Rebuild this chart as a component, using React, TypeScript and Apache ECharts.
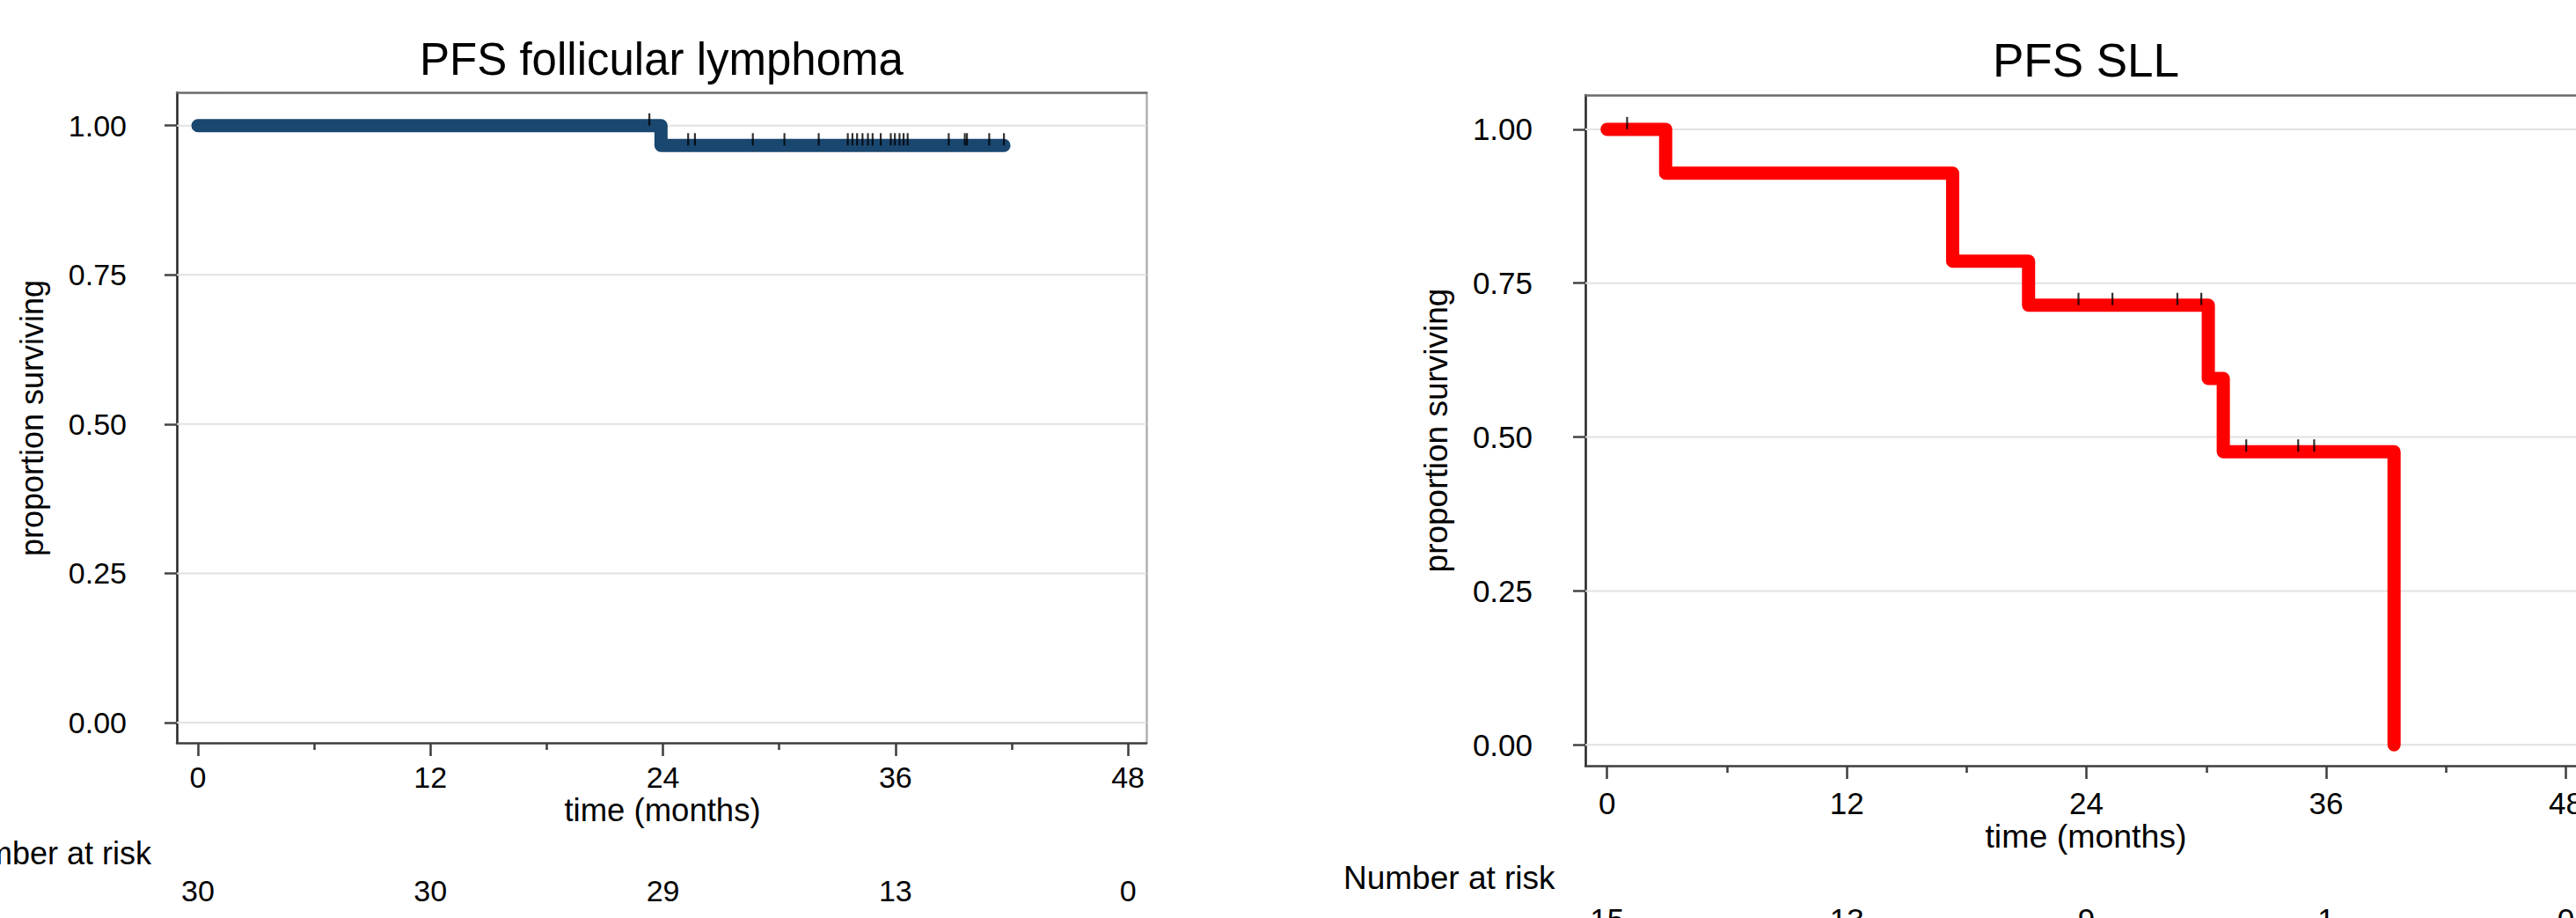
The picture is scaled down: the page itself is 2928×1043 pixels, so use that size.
import React, { useEffect, useRef } from "react";
import * as echarts from "echarts";

const W = 2928;
const H = 1043;
const FONT = "'Liberation Sans', Arial, Helvetica, sans-serif";

// shared axis values
const xTickMajor = [0, 12, 24, 36, 48];
const xTickMinor = [6, 18, 30, 42];
const yTicks = [0, 0.25, 0.5, 0.75, 1];
const yAxisTitle = "proportion surviving";
const xAxisTitle = "time (months)";
const riskTitle = "Number at risk";

// Panel 1: follicular lymphoma
const flTitle = "PFS follicular lymphoma";
const flCurve: [number, number][] = [
  [0, 1],
  [23.9, 0.9667],
  [41.6, 0.9667],
];
const flCensor: [number, number][] = [
  [23.3, 1],
  [25.3, 0.9667], [25.65, 0.9667], [28.64, 0.9667], [30.27, 0.9667], [32.04, 0.9667],
  [33.54, 0.9667], [33.78, 0.9667], [34.02, 0.9667], [34.3, 0.9667], [34.58, 0.9667],
  [34.82, 0.9667], [35.24, 0.9667], [35.76, 0.9667], [35.97, 0.9667], [36.21, 0.9667],
  [36.42, 0.9667], [36.63, 0.9667], [38.75, 0.9667], [39.58, 0.9667], [39.69, 0.9667],
  [40.84, 0.9667], [41.6, 0.9667],
];
const flAtRisk = [30, 30, 29, 13, 0];

// Panel 2: SLL
const sllTitle = "PFS SLL";
const sllCurve: [number, number][] = [
  [0, 1],
  [2.93, 0.9286],
  [17.3, 0.7857],
  [21.1, 0.7143],
  [30.1, 0.5952],
  [30.85, 0.4762],
  [39.4, 0],
];
const sllCensor: [number, number][] = [
  [1.0, 1],
  [23.6, 0.7143], [25.3, 0.7143], [28.55, 0.7143], [29.75, 0.7143],
  [32.0, 0.4762], [34.6, 0.4762], [35.4, 0.4762],
];
const sllAtRisk = [15, 13, 9, 1, 0];

const X_MIN = -1.09;
const X_MAX = 48.95;
const Y_MIN = -0.034;
const Y_MAX = 1.0556;

const panels = [
  {
    title: flTitle, curve: flCurve, censor: flCensor, atRisk: flAtRisk, color: "#1a476f",
    grid: { left: 201, top: 105, width: 1102, height: 739 },
    fs: 34, yMargin: 57, xMargin: 39, riskOffset: 129, riskMargin: 39,
    titleX: 752, titleY: 67, titleFs: 51,
    yTitleX: 36, yTitleY: 475, yTitleFs: 36,
    xTitleX: 753, xTitleY: 920, xTitleFs: 36.5,
    riskX: 172, riskY: 969, riskFs: 36, riskAlign: "right",
  },
  {
    title: sllTitle, curve: sllCurve, censor: sllCensor, atRisk: sllAtRisk, color: "#ff0000",
    grid: { left: 1802, top: 108, width: 1136, height: 762 },
    fs: 35, yMargin: 60, xMargin: 42, riskOffset: 134, riskMargin: 40,
    titleX: 2371, titleY: 68, titleFs: 53,
    yTitleX: 1632, yTitleY: 489, yTitleFs: 37,
    xTitleX: 2371, xTitleY: 950, xTitleFs: 37.5,
    riskX: 1527, riskY: 997, riskFs: 37, riskAlign: "left",
  },
];

function buildOption() {
  const grid: any[] = [];
  const xAxis: any[] = [];
  const yAxis: any[] = [];
  const series: any[] = [];
  const graphic: any[] = [];

  panels.forEach((p, i) => {
    grid.push({ ...p.grid, containLabel: false, outerBoundsMode: "none", show: false });
    const xb = xAxis.length;
    const baseX = { type: "value", gridIndex: i, min: X_MIN, max: X_MAX, splitLine: { show: false } };
    // main bottom axis
    xAxis.push({
      ...baseX,
      position: "bottom",
      axisLine: { show: true, onZero: false, lineStyle: { color: "#3c3c3c", width: 2.5 } },
      axisTick: { show: true, customValues: xTickMajor, length: 15, lineStyle: { color: "#3c3c3c", width: 2.5 } },
      axisLabel: {
        show: true, customValues: xTickMajor, fontSize: p.fs, margin: p.xMargin,
        verticalAlign: "middle", color: "#000", fontFamily: FONT,
      },
    });
    // minor ticks
    xAxis.push({
      ...baseX,
      position: "bottom",
      axisLine: { show: false, onZero: false },
      axisTick: { show: true, customValues: xTickMinor, length: 8, lineStyle: { color: "#3c3c3c", width: 2.5 } },
      axisLabel: { show: false },
    });
    // top border
    xAxis.push({
      ...baseX,
      position: "top",
      axisLine: { show: true, onZero: false, lineStyle: { color: "#6a6a6a", width: 2.5 } },
      axisTick: { show: false },
      axisLabel: { show: false },
    });
    // number at risk row
    const risk = p.atRisk;
    xAxis.push({
      ...baseX,
      position: "bottom",
      offset: p.riskOffset,
      axisLine: { show: false, onZero: false },
      axisTick: { show: false },
      axisLabel: {
        show: true, customValues: xTickMajor, fontSize: p.fs, margin: p.riskMargin,
        verticalAlign: "middle", color: "#000", fontFamily: FONT,
        formatter: (v: number) => {
          const k = xTickMajor.indexOf(v);
          return k >= 0 ? String(risk[k]) : "";
        },
      },
    });

    const yb = yAxis.length;
    yAxis.push({
      type: "value", gridIndex: i, min: Y_MIN, max: Y_MAX, position: "left",
      splitLine: { show: false },
      axisLine: { show: true, onZero: false, lineStyle: { color: "#222", width: 2.5 } },
      axisTick: { show: true, customValues: yTicks, length: 14, lineStyle: { color: "#444", width: 2.5 } },
      axisLabel: {
        show: true, customValues: yTicks, fontSize: p.fs, margin: p.yMargin, color: "#000",
        fontFamily: FONT, formatter: (v: number) => v.toFixed(2),
      },
    });
    yAxis.push({
      type: "value", gridIndex: i, min: Y_MIN, max: Y_MAX, position: "right",
      splitLine: { show: false },
      axisLine: { show: true, onZero: false, lineStyle: { color: "#b0b0b0", width: 2.5 } },
      axisTick: { show: false },
      axisLabel: { show: false },
    });

    // horizontal grid lines
    yTicks.forEach((v) => {
      series.push({
        type: "line", xAxisIndex: xb, yAxisIndex: yb, silent: true, z: 1,
        data: [[X_MIN, v], [X_MAX, v]], symbol: "none",
        lineStyle: { color: "#e2e2e2", width: 2 },
      });
    });
    // KM curve
    series.push({
      type: "line", xAxisIndex: xb, yAxisIndex: yb, step: "end", silent: true, z: 3,
      data: p.curve, symbol: "none",
      lineStyle: { color: p.color, width: 15, cap: "round", join: "round" },
    });
    // censor marks
    series.push({
      type: "scatter", xAxisIndex: xb, yAxisIndex: yb, silent: true, z: 4,
      data: p.censor, symbol: "rect", symbolSize: [2.2, 14], symbolOffset: [0, -7],
      itemStyle: { color: "#000" },
    });

    // texts
    graphic.push({
      type: "text", x: p.titleX, y: p.titleY, silent: true,
      style: { text: p.title, fill: "#000", fontSize: p.titleFs, fontFamily: FONT, textAlign: "center", textVerticalAlign: "middle" },
    });
    graphic.push({
      type: "text", x: p.yTitleX, y: p.yTitleY, rotation: Math.PI / 2, silent: true,
      style: { text: yAxisTitle, fill: "#000", fontSize: p.yTitleFs, fontFamily: FONT, textAlign: "center", textVerticalAlign: "middle" },
    });
    graphic.push({
      type: "text", x: p.xTitleX, y: p.xTitleY, silent: true,
      style: { text: xAxisTitle, fill: "#000", fontSize: p.xTitleFs, fontFamily: FONT, textAlign: "center", textVerticalAlign: "middle" },
    });
    graphic.push({
      type: "text", x: p.riskX, y: p.riskY, silent: true,
      style: { text: riskTitle, fill: "#000", fontSize: p.riskFs, fontFamily: FONT, textAlign: p.riskAlign, textVerticalAlign: "middle" },
    });
  });

  return {
    animation: false,
    backgroundColor: "#ffffff",
    textStyle: { fontFamily: FONT },
    grid,
    xAxis,
    yAxis,
    series,
    graphic,
  };
}

export default function App() {
  const ref = useRef<HTMLDivElement>(null);
  useEffect(() => {
    if (!ref.current) return;
    const chart = echarts.init(ref.current, undefined, { renderer: "svg", width: W, height: H });
    chart.setOption(buildOption() as any);
    return () => chart.dispose();
  }, []);
  return (
    <div
      ref={ref}
      style={{ position: "absolute", left: 0, top: 0, width: W, height: H, background: "#fff" }}
    />
  );
}
